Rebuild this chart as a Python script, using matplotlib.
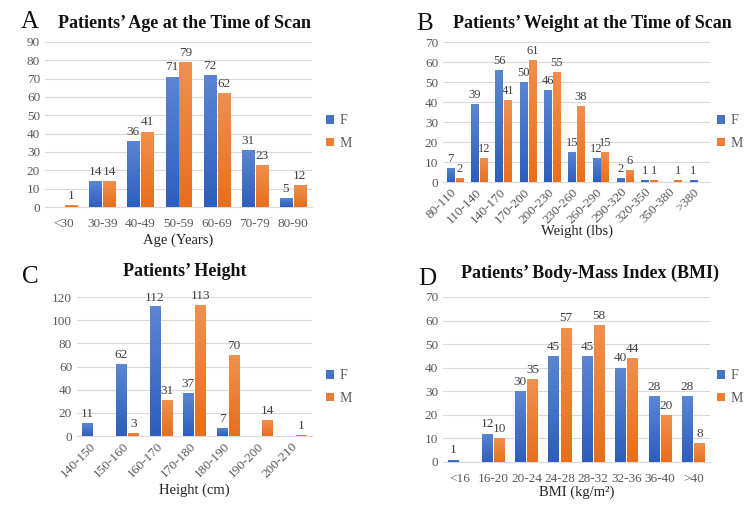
import numpy as np
import matplotlib
matplotlib.use('Agg')
import matplotlib.pyplot as plt
from matplotlib.colors import LinearSegmentedColormap

plt.rcParams['font.family'] = ['Liberation Serif', 'DejaVu Serif']

# ---- data ----
age_cats = ['<30', '30-39', '40-49', '50-59', '60-69', '70-79', '80-90']
age_f = [0, 14, 36, 71, 72, 31, 5]
age_m = [1, 14, 41, 79, 62, 23, 12]

wt_cats = ['80-110', '110-140', '140-170', '170-200', '200-230', '230-260',
           '260-290', '290-320', '320-350', '350-380', '>380']
wt_f = [7, 39, 56, 50, 46, 15, 12, 2, 1, 0, 1]
wt_m = [2, 12, 41, 61, 55, 38, 15, 6, 1, 1, 0]

ht_cats = ['140-150', '150-160', '160-170', '170-180', '180-190', '190-200', '200-210']
ht_f = [11, 62, 112, 37, 7, 0, 0]
ht_m = [0, 3, 31, 113, 70, 14, 1]

bmi_cats = ['<16', '16-20', '20-24', '24-28', '28-32', '32-36', '36-40', '>40']
bmi_f = [1, 12, 30, 45, 45, 40, 28, 28]
bmi_m = [0, 10, 35, 57, 58, 44, 20, 8]

blue = '#4472C4'
orange = '#ED7D31'
grey = '#595959'
blue_cm = LinearSegmentedColormap.from_list('b', ['#2E5EBE', '#5B86D2'])
orange_cm = LinearSegmentedColormap.from_list('o', ['#E76F1E', '#F0904F'])

fig = plt.figure(figsize=(7.5, 5.08), dpi=100)
grad = np.linspace(0, 1, 64).reshape(-1, 1)


def shade(ax, bars, cmap):
    # gradient fill, darker at the base
    for b in bars:
        h = b.get_height()
        if h <= 0:
            continue
        x0 = b.get_x()
        im = ax.imshow(grad, cmap=cmap, origin='lower', aspect='auto',
                       extent=[x0, x0 + b.get_width(), 0, h], zorder=4)
        im.set_clip_path(b)


def panel(rect, cats, f, m, ymax, ystep, title, letter, xlabel, rot,
          title_xy, letter_xy, xlabel_y, leg_x, leg_y, vsize=9.5):
    ax = fig.add_axes(rect)
    x = np.arange(len(cats))
    w = 0.315
    bf = ax.bar(x - w/2 - 0.025, f, w, color=blue, label='F', zorder=3)
    bm = ax.bar(x + w/2 + 0.025, m, w, color=orange, label='M', zorder=3)
    shade(ax, bf, blue_cm)
    shade(ax, bm, orange_cm)
    for bars, vals in ((bf, f), (bm, m)):
        for b, v in zip(bars, vals):
            if v > 0:
                ax.text(b.get_x() + b.get_width()/2, v + ymax*0.02, str(v),
                        ha='center', va='bottom', fontsize=vsize, color='#404040')
    ax.set_ylim(0, ymax)
    ax.set_xlim(-0.5, len(cats) - 0.5)
    ax.set_yticks(np.arange(0, ymax + 1, ystep))
    ax.yaxis.grid(True, color='#d9d9d9', linewidth=0.8, zorder=0)
    ax.set_axisbelow(True)
    for s in ['top', 'right', 'left']:
        ax.spines[s].set_visible(False)
    ax.spines['bottom'].set_color('#d9d9d9')
    ax.tick_params(length=0, colors=grey, labelsize=9.5)
    ax.set_xticks(x)
    if rot:
        ax.set_xticklabels(cats, rotation=45, ha='right', va='center',
                           rotation_mode='anchor')
        ax.tick_params(axis='x', pad=6)
    else:
        ax.set_xticklabels(cats)
        ax.tick_params(axis='x', pad=8)
    fig.text(title_xy[0]/750, 1 - title_xy[1]/508, title, ha='center', va='center',
             fontsize=13, fontweight='bold', color='#111111')
    fig.text(letter_xy[0]/750, 1 - letter_xy[1]/508, letter, ha='center', va='center',
             fontsize=18, color='#111111')
    fig.text((rect[0] + rect[2]/2), 1 - xlabel_y/508, xlabel, ha='center', va='center',
             fontsize=10.5, color='#222222')
    ax.legend(loc='center left', bbox_to_anchor=(leg_x/750, 1 - leg_y/508),
              bbox_transform=fig.transFigure, frameon=False, fontsize=10,
              handlelength=0.6, handleheight=0.6, handletextpad=0.4,
              labelspacing=0.7, labelcolor=grey, borderpad=0, borderaxespad=0)
    return ax


panel([0.06, 0.5925, 0.356, 0.325], age_cats, age_f, age_m, 90, 10,
      'Patients\u2019 Age at the Time of Scan', 'A', 'Age (Years)', False,
      (185, 24), (30, 22), 240, 326, 132)
panel([0.5907, 0.6417, 0.356, 0.2756], wt_cats, wt_f, wt_m, 70, 10,
      'Patients\u2019 Weight at the Time of Scan', 'B', 'Weight (lbs)', True,
      (592, 24), (425, 24), 231, 717, 132, vsize=9)
panel([0.1027, 0.1417, 0.3133, 0.2736], ht_cats, ht_f, ht_m, 120, 20,
      'Patients\u2019 Height', 'C', 'Height (cm)', True,
      (185, 272), (30, 277), 490, 326, 387)
panel([0.5907, 0.0906, 0.356, 0.3248], bmi_cats, bmi_f, bmi_m, 70, 10,
      'Patients\u2019 Body-Mass Index (BMI)', 'D', 'BMI (kg/m\u00b2)', False,
      (590, 273), (427, 279), 492, 717, 387)

fig.savefig('out.png', dpi=100)
